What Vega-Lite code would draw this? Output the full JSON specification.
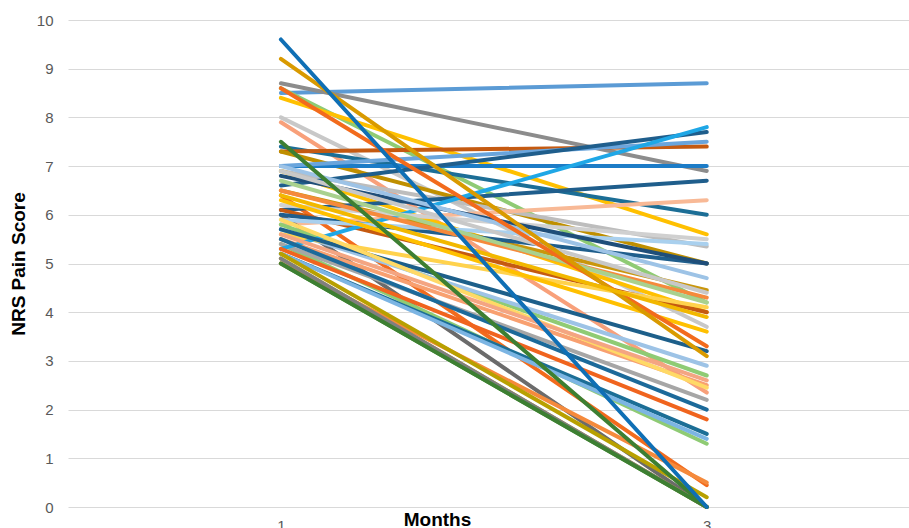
{
  "$schema": "https://vega.github.io/schema/vega-lite/v6.json",
  "autosize": "none",
  "width": 841,
  "height": 487,
  "padding": {"left": 68, "top": 20, "right": 0, "bottom": 21},
  "background": "white",
  "config": {"view": {"stroke": null}, "font": "Liberation Sans"},
  "data": {"values": [
    {"id": "p01", "month": 1, "score": 8.5}, {"id": "p01", "month": 3, "score": 8.7},
    {"id": "p02", "month": 1, "score": 8.7}, {"id": "p02", "month": 3, "score": 6.9},
    {"id": "p03", "month": 1, "score": 8.6}, {"id": "p03", "month": 3, "score": 4.2},
    {"id": "p04", "month": 1, "score": 8.4}, {"id": "p04", "month": 3, "score": 5.6},
    {"id": "p05", "month": 1, "score": 8.0}, {"id": "p05", "month": 3, "score": 3.7},
    {"id": "p06", "month": 1, "score": 7.9}, {"id": "p06", "month": 3, "score": 2.35},
    {"id": "p07", "month": 1, "score": 7.4}, {"id": "p07", "month": 3, "score": 6.0},
    {"id": "p08", "month": 1, "score": 7.3}, {"id": "p08", "month": 3, "score": 7.4},
    {"id": "p09", "month": 1, "score": 7.3}, {"id": "p09", "month": 3, "score": 5.0},
    {"id": "p10", "month": 1, "score": 7.0}, {"id": "p10", "month": 3, "score": 7.0},
    {"id": "p11", "month": 1, "score": 7.0}, {"id": "p11", "month": 3, "score": 7.5},
    {"id": "p12", "month": 1, "score": 6.9}, {"id": "p12", "month": 3, "score": 5.35},
    {"id": "p13", "month": 1, "score": 6.9}, {"id": "p13", "month": 3, "score": 4.0},
    {"id": "p14", "month": 1, "score": 6.6}, {"id": "p14", "month": 3, "score": 7.7},
    {"id": "p15", "month": 1, "score": 6.5}, {"id": "p15", "month": 3, "score": 4.45},
    {"id": "p16", "month": 1, "score": 6.4}, {"id": "p16", "month": 3, "score": 0.45},
    {"id": "p17", "month": 1, "score": 5.8}, {"id": "p17", "month": 3, "score": 6.3},
    {"id": "p18", "month": 1, "score": 6.1}, {"id": "p18", "month": 3, "score": 6.7},
    {"id": "p19", "month": 1, "score": 6.0}, {"id": "p19", "month": 3, "score": 0.0},
    {"id": "p20", "month": 1, "score": 6.1}, {"id": "p20", "month": 3, "score": 4.0},
    {"id": "p21", "month": 1, "score": 6.0}, {"id": "p21", "month": 3, "score": 5.0},
    {"id": "p22", "month": 1, "score": 5.8}, {"id": "p22", "month": 3, "score": 2.7},
    {"id": "p23", "month": 1, "score": 5.7}, {"id": "p23", "month": 3, "score": 2.9},
    {"id": "p24", "month": 1, "score": 5.6}, {"id": "p24", "month": 3, "score": 4.1},
    {"id": "p25", "month": 1, "score": 5.5}, {"id": "p25", "month": 3, "score": 2.5},
    {"id": "p26", "month": 1, "score": 5.4}, {"id": "p26", "month": 3, "score": 1.3},
    {"id": "p27", "month": 1, "score": 5.4}, {"id": "p27", "month": 3, "score": 2.2},
    {"id": "p28", "month": 1, "score": 5.3}, {"id": "p28", "month": 3, "score": 7.8},
    {"id": "p29", "month": 1, "score": 5.2}, {"id": "p29", "month": 3, "score": 1.5},
    {"id": "p30", "month": 1, "score": 5.2}, {"id": "p30", "month": 3, "score": 1.4},
    {"id": "p31", "month": 1, "score": 5.0}, {"id": "p31", "month": 3, "score": 0.0},
    {"id": "p32", "month": 1, "score": 5.1}, {"id": "p32", "month": 3, "score": 0.0},
    {"id": "p33", "month": 1, "score": 5.0}, {"id": "p33", "month": 3, "score": 0.5},
    {"id": "p34", "month": 1, "score": 5.3}, {"id": "p34", "month": 3, "score": 1.8},
    {"id": "p35", "month": 1, "score": 5.5}, {"id": "p35", "month": 3, "score": 2.0},
    {"id": "p36", "month": 1, "score": 5.9}, {"id": "p36", "month": 3, "score": 5.4},
    {"id": "p37", "month": 1, "score": 6.2}, {"id": "p37", "month": 3, "score": 5.5},
    {"id": "p38", "month": 1, "score": 6.8}, {"id": "p38", "month": 3, "score": 5.0},
    {"id": "p39", "month": 1, "score": 7.0}, {"id": "p39", "month": 3, "score": 4.7},
    {"id": "p40", "month": 1, "score": 6.9}, {"id": "p40", "month": 3, "score": 4.4},
    {"id": "p41", "month": 1, "score": 6.5}, {"id": "p41", "month": 3, "score": 4.3},
    {"id": "p42", "month": 1, "score": 5.7}, {"id": "p42", "month": 3, "score": 3.2},
    {"id": "p43", "month": 1, "score": 5.9}, {"id": "p43", "month": 3, "score": 2.45},
    {"id": "p44", "month": 1, "score": 5.6}, {"id": "p44", "month": 3, "score": 2.6},
    {"id": "p45", "month": 1, "score": 5.1}, {"id": "p45", "month": 3, "score": 0.0},
    {"id": "p46", "month": 1, "score": 5.2}, {"id": "p46", "month": 3, "score": 0.2},
    {"id": "p47", "month": 1, "score": 6.3}, {"id": "p47", "month": 3, "score": 3.6},
    {"id": "p48", "month": 1, "score": 6.7}, {"id": "p48", "month": 3, "score": 4.2},
    {"id": "p49", "month": 1, "score": 8.6}, {"id": "p49", "month": 3, "score": 3.3},
    {"id": "p50", "month": 1, "score": 9.2}, {"id": "p50", "month": 3, "score": 3.1},
    {"id": "p51", "month": 1, "score": 6.4}, {"id": "p51", "month": 3, "score": 3.9},
    {"id": "p52", "month": 1, "score": 5.0}, {"id": "p52", "month": 3, "score": 0.0},
    {"id": "p53", "month": 1, "score": 7.5}, {"id": "p53", "month": 3, "score": 0.0},
    {"id": "p54", "month": 1, "score": 9.6}, {"id": "p54", "month": 3, "score": 0.0}
  ]},
  "mark": {"type": "line", "strokeWidth": 4, "strokeCap": "round", "strokeJoin": "round", "clip": false},
  "encoding": {
    "x": {
      "field": "month", "type": "quantitative",
      "scale": {"domain": [0, 3.95], "nice": false, "zero": false},
      "axis": {
        "values": [1, 3], "grid": false, "domain": false, "ticks": false,
        "labelFontSize": 15, "labelColor": "#595959", "labelPadding": 11,
        "title": "Months", "titleFontSize": 19, "titleFontWeight": "bold", "titleColor": "#000000",
        "titleX": 369, "titleY": 3, "titleAlign": "center", "titleBaseline": "top"
      }
    },
    "y": {
      "field": "score", "type": "quantitative",
      "scale": {"domain": [0, 10], "nice": false},
      "axis": {
        "values": [0, 1, 2, 3, 4, 5, 6, 7, 8, 9, 10], "domain": false, "ticks": false,
        "gridColor": "#D9D9D9", "gridWidth": 1,
        "labelFontSize": 15, "labelColor": "#595959", "labelPadding": 15,
        "title": "NRS Pain Score", "titleFontSize": 19, "titleFontWeight": "bold", "titleColor": "#000000",
        "titlePadding": 8
      }
    },
    "color": {
      "field": "id", "type": "nominal", "legend": null,
      "scale": {
        "domain": ["p01","p02","p03","p04","p05","p06","p07","p08","p09","p10","p11","p12","p13","p14","p15","p16","p17","p18","p19","p20","p21","p22","p23","p24","p25","p26","p27","p28","p29","p30","p31","p32","p33","p34","p35","p36","p37","p38","p39","p40","p41","p42","p43","p44","p45","p46","p47","p48","p49","p50","p51","p52","p53","p54"],
        "range": ["#5B9BD5","#8C8C8C","#8FCB74","#FFC000","#C8C8C8","#F8A07A","#1C6E96","#C55A11","#BF8F00","#1C7CC7","#6AA5DC","#BDBDBD","#FFC000","#1F5E8C","#C9960C","#F26B1D","#F8B996","#1F5E8C","#6B6B6B","#C55A11","#1F5E8C","#8FCB74","#9DC3E6","#FFD24D","#F8A070","#8FCB74","#A6A6A6","#1FA7E6","#1C6E96","#7CB5E3","#4E9A3A","#D4A017","#F58A3C","#F0641E","#1C6A9A","#A9D0EE","#D0D0D0","#1F4E79","#9DC3E6","#C8C8C8","#F58A3C","#1D5F8A","#FFD966","#F4A582","#7F7F7F","#B8A000","#FFC000","#A9D18E","#F26B1D","#D99A00","#F2B800","#3D7F32","#3D7F32","#0F6FB5"]
      }
    },
    "detail": {"field": "id"}
  }
}
